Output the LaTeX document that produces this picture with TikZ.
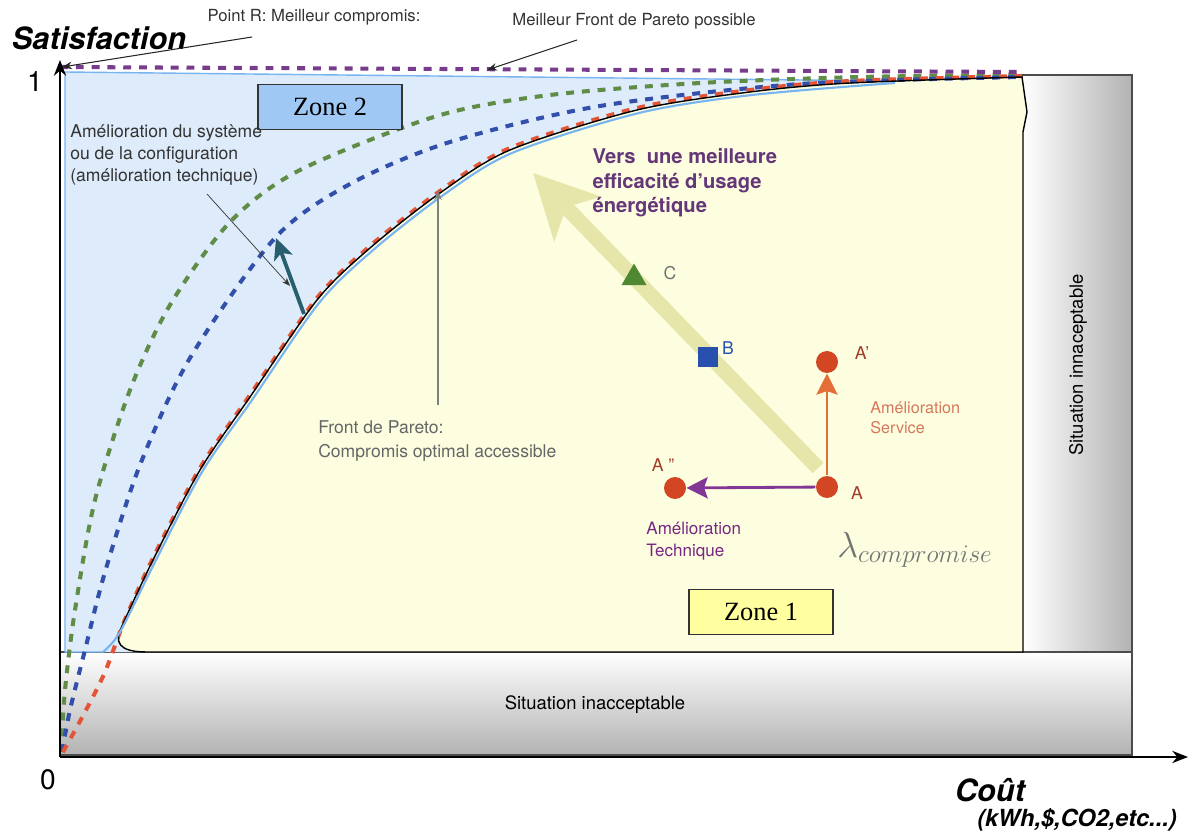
\documentclass[tikz,border=0pt]{standalone}
\usepackage{fontspec}
\setmainfont{TeX Gyre Heros}
\newfontfamily\zonefont{Liberation Serif}
\usetikzlibrary{arrows.meta,shapes.geometric}
\definecolor{zoneblue}{RGB}{221,235,250}
\definecolor{zoneyellow}{RGB}{253,253,224}
\definecolor{zoneboxblue}{RGB}{160,200,245}
\definecolor{zoneboxyellow}{RGB}{255,255,160}
\definecolor{frontgreen}{RGB}{95,140,70}
\definecolor{frontblue}{RGB}{50,80,170}
\definecolor{frontred}{RGB}{228,85,55}
\definecolor{frontpurple}{RGB}{120,60,140}
\definecolor{lightfront}{RGB}{120,180,240}
\definecolor{pointred}{RGB}{210,70,35}
\definecolor{pointgreen}{RGB}{80,135,50}
\definecolor{pointblue}{RGB}{40,80,175}
\definecolor{labelred}{RGB}{160,60,40}
\definecolor{servorange}{RGB}{228,110,55}
\definecolor{servtext}{RGB}{215,120,90}
\definecolor{techpurple}{RGB}{130,55,150}
\definecolor{techtext}{RGB}{120,40,130}
\definecolor{versviolet}{RGB}{100,55,120}
\definecolor{tealarrow}{RGB}{40,95,110}
\definecolor{bigarrow}{RGB}{230,230,170}
\begin{document}
\begin{tikzpicture}[x=0.02cm,y=-0.02cm,>={Stealth},semithick]
\tikzset{
  frontline/.style={line width=2.3pt,dash pattern=on 4.5pt off 4.5pt},
  annot/.style={inner sep=1pt,text=black!80,font=\fontsize{9.5}{12}\selectfont},
  zonebox/.style={draw=black!80,thick,minimum width=2.88cm,minimum height=0.9cm,font=\zonefont\fontsize{15}{18}\selectfont},
  redpoint/.style={circle,fill=pointred,minimum size=0.44cm,inner sep=0pt},
  ptlabel/.style={font=\fontsize{10}{12}\selectfont,inner sep=1pt},
  axistip/.style={-{Stealth[length=9pt,width=7pt]}}
}
\useasboundingbox (0,0) rectangle (1197,834);
\path
(60,757)coordinate(O)
(60,60)coordinate(Ytop)
(1188,757)coordinate(Xend)
(62,67)coordinate(R)
(252,37)coordinate(Rtail)
(487,70)coordinate(Best)
(577,40)coordinate(Besttail)
(207,194)coordinate(Systail)
(290,286)coordinate(Systip)
(304,314)coordinate(Techtail)
(276,238)coordinate(Techtip)
(438,405)coordinate(Paretotail)
(438,190)coordinate(Paretotip)
(818,468)coordinate(Efftail)
(533,173)coordinate(Efftip)
;
% zones inacceptables
\shade[top color=white,bottom color=black!30,draw=black!70,thick] (60,652) rectangle (1132,755);
\shade[left color=white,right color=black!30,draw=black!70,thick] (1022,75) rectangle (1132,652);
\node[font=\fontsize{10.5}{12}\selectfont] (inacc) at (595,705) {Situation inacceptable};
\node[font=\fontsize{10.5}{12}\selectfont,rotate=90] (innac) at (1078,365) {Situation innaceptable};
% zone 2 et zone 1
\fill[zoneblue] (65,72) -- (895,81) -- (895,652) -- (65,652) -- cycle;
\fill[zoneyellow] (147,652) .. controls (118,652) and (114,642) .. (122,626) -- plot[smooth] coordinates {(122,626) (153,560) (200,470) (250,397) (317,300) (370,248) (440,193) (510,150) (637,110) (750,92) (850,83) (1022,77)} -- (1027,112) -- (1023,132) -- (1023,652) -- cycle;
\draw[lightfront,thick] (103,652) -- (65,652) -- (65,72) -- (895,81);
% fronts
\draw[frontline,frontgreen] plot[smooth] coordinates {(61,752) (65,690) (75,610) (95,500) (130,390) (170,305) (230,222) (300,170) (437,116) (550,95) (700,83) (860,77) (1022,75)};
\draw[frontline,frontblue] plot[smooth] coordinates {(62,752) (70,710) (85,650) (105,572) (140,465) (190,358) (275,238) (350,184) (450,142) (600,106) (800,84) (1022,77)};
\draw[frontline,frontred] plot[smooth] coordinates {(63,752) (85,712) (105,672) (124,622) (153,558) (200,468) (250,395) (317,298) (370,246) (440,191) (510,148) (637,108) (750,90) (850,81) (1022,76)};
\draw[frontline,frontpurple] (60,67) -- (1022,72);
\draw[black,thick] (147,652) .. controls (118,652) and (114,642) .. (122,626) -- plot[smooth] coordinates {(122,626) (153,560) (200,470) (250,397) (317,300) (370,248) (440,193) (510,150) (637,110) (750,92) (850,83) (1022,77)} -- (1027,112) -- (1023,132) -- (1023,652) -- cycle;
\draw[lightfront,line width=1.2pt] plot[smooth] coordinates {(103,652) (120,632) (155,562) (202,472) (252,400) (319,303) (372,251) (442,196) (512,153) (639,113) (752,95) (895,83)};
% axes
\draw[axistip,thick] (O) -- (Ytop);
\draw[axistip,thick] (O) -- (Xend);
\node[font=\bfseries\itshape\fontsize{17.5}{20}\selectfont] (sat) at (99,38) {Satisfaction};
\node[font=\fontsize{16}{18}\selectfont] (one) at (35,82) {1};
\node[font=\fontsize{16}{18}\selectfont] (zero) at (48,780) {0};
\node[font=\bfseries\itshape\fontsize{17.5}{20}\selectfont] (cout) at (990,790) {Coût};
\node[font=\bfseries\itshape\fontsize{13.4}{16}\selectfont] (unit) at (1077,820) {(kWh,\$,CO2,etc...)};
% annotations
\node[annot] (pointR) at (314,17) {Point R: Meilleur compromis:};
\draw[->,black!85] (Rtail) -- (R);
\node[annot] (bestfront) at (634,21) {Meilleur Front de Pareto possible};
\draw[->,black!85] (Besttail) -- (Best);
\node[zonebox,fill=zoneboxblue] (zone2) at (330,107) {Zone 2};
\node[zonebox,fill=zoneboxyellow] (zone1) at (761,612) {Zone 1};
\node[annot,font=\fontsize{10}{12.5}\selectfont,align=left,anchor=north west] (sys) at (68,122) {Amélioration du système\\ou de la configuration\\(amélioration technique)};
\draw[->,black!80,thin] (Systail) -- (Systip);
\draw[tealarrow,line width=2.2pt,-{Stealth[length=12pt,width=11pt,inset=3pt]}] (Techtail) -- (Techtip);
\node[annot,text=black!60,font=\fontsize{10}{14}\selectfont,align=left,anchor=west] (pareto) at (316,441) {Front de Pareto:\\Compromis optimal accessible};
\draw[->,black!50] (Paretotail) -- (Paretotip);
% vers une meilleure efficacite
\draw[bigarrow,line width=8.5pt,-{Stealth[length=36pt,width=36pt,inset=9pt]}] (Efftail) -- (Efftip);
\node[font=\bfseries\fontsize{11.5}{14}\selectfont,text=versviolet,align=left,anchor=west,inner sep=0pt] (vers) at (592,183) {Vers\ \ une meilleure\\efficacité d’usage\\énergétique};
\node[regular polygon,regular polygon sides=3,fill=pointgreen,inner sep=0pt,minimum size=0.58cm] (C) at (634,278) {};
\node[fill=pointblue,inner sep=0pt,minimum size=0.4cm] (B) at (708,357) {};
\node[redpoint] (A) at (827,487) {};
\node[redpoint] (Ap) at (827,362) {};
\node[redpoint] (App) at (675,488) {};
\draw[servorange,line width=1.6pt,-{Stealth[length=12pt,width=12pt,inset=2pt]}] (A) -- (Ap);
\draw[techpurple,line width=1.6pt,-{Stealth[length=12pt,width=12pt,inset=2pt]}] (A) -- (App);
\foreach \n/\t/\x/\y/\c in {C/C/670/273/black!55,B/B/728/348/pointblue,Ap/A'/862/353/labelred,A/A/857/493/labelred,App/{A ''}/663/465/labelred}
  \node[ptlabel,text=\c] (lab\n) at (\x,\y) {\t};
\node[font=\fontsize{9.2}{11.5}\selectfont,text=servtext,align=left,anchor=west] (serv) at (864,418) {Amélioration\\Service};
\node[font=\fontsize{9.7}{12.5}\selectfont,text=techtext,align=left,anchor=west] (tech) at (640,541) {Amélioration\\Technique};
\node[text=black!55,font=\fontsize{20}{24}\selectfont] (lambda) at (915,550) {$\lambda_{compromise}$};
\end{tikzpicture}
\end{document}
